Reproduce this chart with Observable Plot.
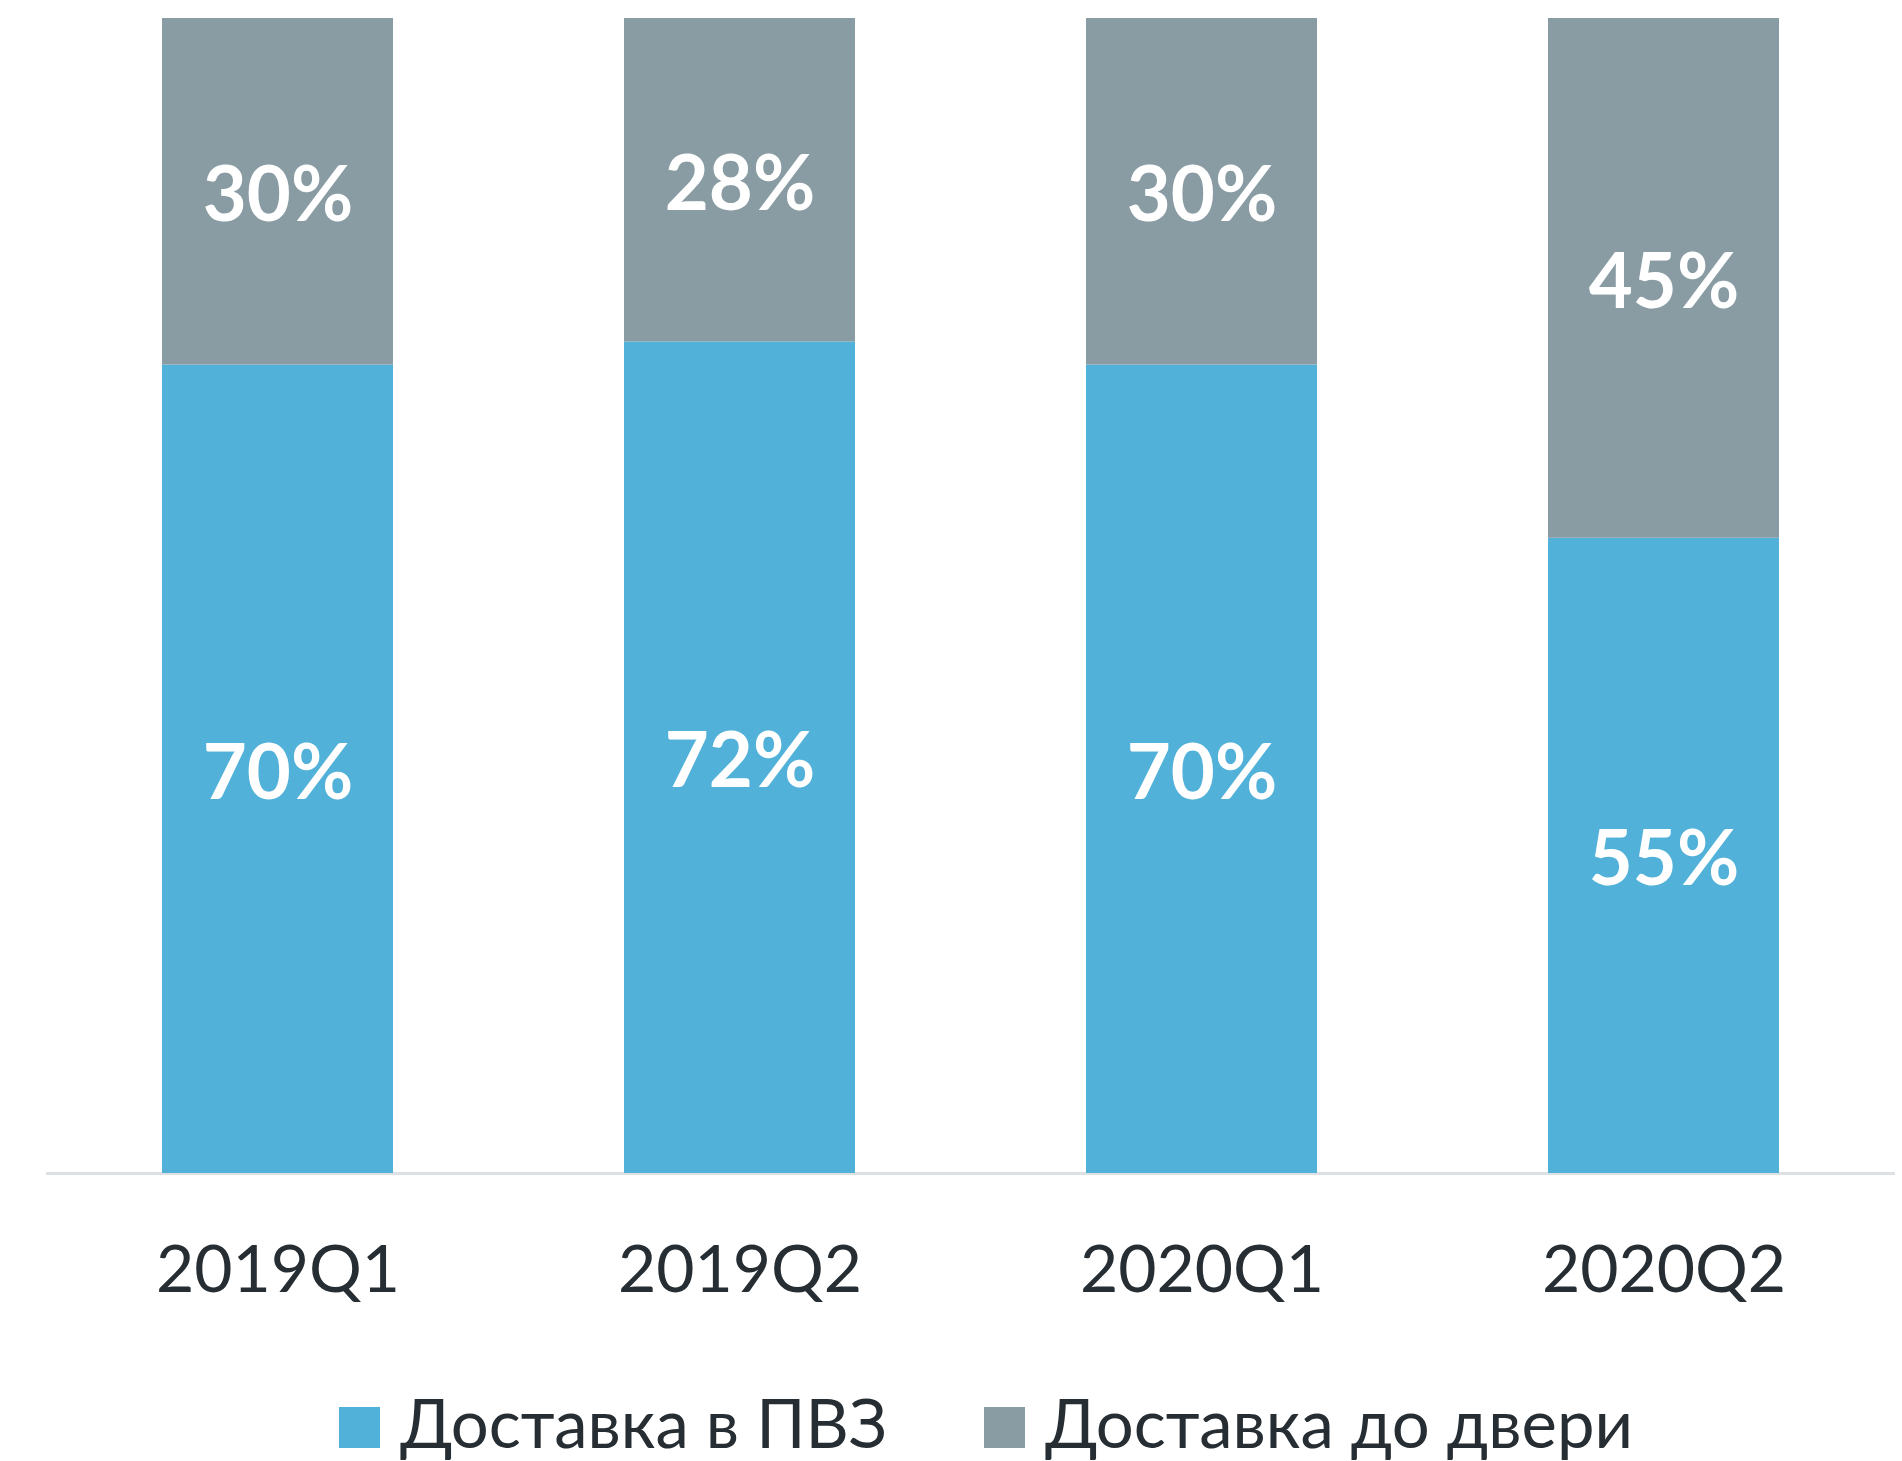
<!DOCTYPE html>
<html>
<head>
<meta charset="utf-8">
<script src="https://cdn.jsdelivr.net/npm/d3@7"></script>
<script src="https://cdn.jsdelivr.net/npm/@observablehq/plot@0.6"></script>
<style>
  html, body { margin: 0; padding: 0; background: #fff; }
  #wrap { position: relative; width: 1902px; height: 1461px; overflow: hidden; font-family: Lato, "Open Sans", sans-serif; }
  #legend { position: relative; height: 121px; font-family: Lato, sans-serif; font-size: 67px; color: #272e33; line-height: 1; }
  .item { position: absolute; top: 49px; white-space: nowrap; }
  .sw { display: inline-block; width: 41px; height: 41px; margin-right: 20px; }
</style>
</head>
<body>
<div id="wrap">
  <div id="chart"></div>
  <div id="legend"></div>
</div>
<script>
const quarters = ["2019Q1", "2019Q2", "2020Q1", "2020Q2"];
const series = ["Доставка в ПВЗ", "Доставка до двери"];
const pvz = [70, 72, 70, 55];
const door = [30, 28, 30, 45];
const colors = ["#51b1d9", "#899ba3"];
const legendLeft = [339, 984];

const data = [];
quarters.forEach((q, i) => {
  data.push({quarter: q, series: series[0], value: pvz[i]});
  data.push({quarter: q, series: series[1], value: door[i]});
});

const chart = Plot.plot({
  width: 1902,
  height: 1340,
  marginTop: 18,
  marginLeft: 46,
  marginRight: 7,
  marginBottom: 167,
  style: {fontFamily: "Lato, sans-serif", color: "#272e33", background: "#fff"},
  x: {domain: quarters, paddingInner: 0.5, paddingOuter: 0.25, label: null, tickSize: 0, tickPadding: 72, fontSize: 66},
  y: {domain: [0, 100], axis: null},
  color: {domain: series, range: colors},
  marks: [
    Plot.ruleY([0], {stroke: "#dde1e4", strokeWidth: 3}),
    Plot.barY(data, Plot.stackY({x: "quarter", y: "value", fill: "series"})),
    Plot.text(data, Plot.stackY({x: "quarter", y: "value", text: d => d.value + "%", fill: "white", fontWeight: "bold", fontSize: 76, dy: 5}))
  ]
});
chart.querySelectorAll("g[aria-label='x-axis tick label'] text, g[aria-label='x-axis tick label']").forEach(el => el.setAttribute("font-size", 66));
document.getElementById("chart").appendChild(chart);

const legend = document.getElementById("legend");
series.forEach((s, i) => {
  const item = document.createElement("div");
  item.className = "item";
  item.style.left = legendLeft[i] + "px";
  const sw = document.createElement("span");
  sw.className = "sw";
  sw.style.background = colors[i];
  item.appendChild(sw);
  item.appendChild(document.createTextNode(s));
  legend.appendChild(item);
});
</script>
</body>
</html>
